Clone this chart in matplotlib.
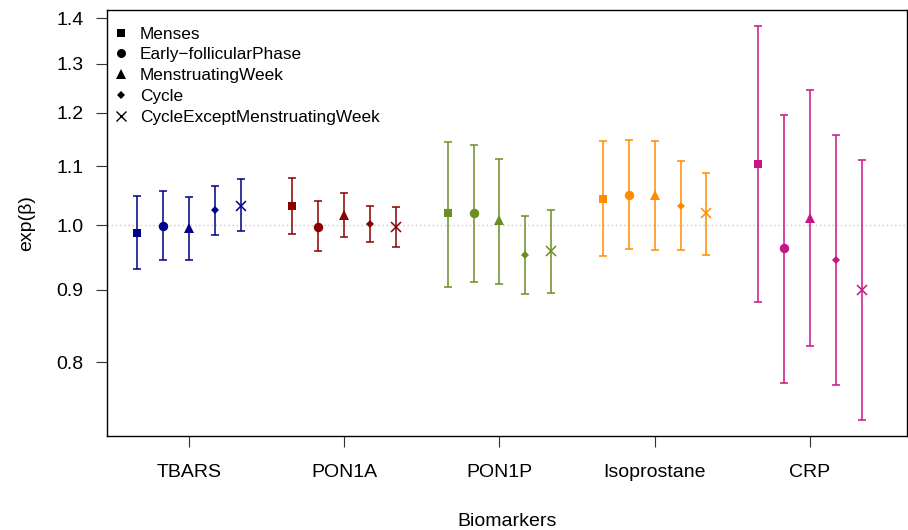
import matplotlib
matplotlib.use("Agg")
import matplotlib.pyplot as plt
from matplotlib.lines import Line2D
import matplotlib.ticker as mticker

plt.rcParams['font.family'] = ['Liberation Sans', 'DejaVu Sans']

biomarkers = ["TBARS", "PON1A", "PON1P", "Isoprostane", "CRP"]
periods = ["Menses", "Early\u2212follicularPhase", "MenstruatingWeek", "Cycle",
           "CycleExceptMenstruatingWeek"]
colors = ["#00008B", "#8B0000", "#6B8E23", "#FF8C00", "#C71585"]

# estimates (exp(beta)) per biomarker, ordered by period
est_TBARS = [0.987, 0.999, 0.995, 1.024, 1.032]
est_PON1A = [1.031, 0.997, 1.017, 1.001, 0.996]
est_PON1P = [1.019, 1.020, 1.008, 0.952, 0.958]
est_Iso = [1.043, 1.050, 1.050, 1.031, 1.019]
est_CRP = [1.104, 0.963, 1.012, 0.945, 0.900]

low_TBARS = [0.931, 0.945, 0.944, 0.984, 0.991]
low_PON1A = [0.986, 0.958, 0.980, 0.973, 0.965]
low_PON1P = [0.904, 0.912, 0.909, 0.894, 0.895]
low_Iso = [0.951, 0.962, 0.960, 0.960, 0.953]
low_CRP = [0.883, 0.774, 0.822, 0.771, 0.728]

up_TBARS = [1.048, 1.057, 1.047, 1.065, 1.078]
up_PON1A = [1.079, 1.040, 1.053, 1.031, 1.029]
up_PON1P = [1.145, 1.139, 1.113, 1.014, 1.025]
up_Iso = [1.146, 1.149, 1.147, 1.109, 1.088]
up_CRP = [1.381, 1.196, 1.246, 1.158, 1.111]

estimates = [est_TBARS, est_PON1A, est_PON1P, est_Iso, est_CRP]
lows = [low_TBARS, low_PON1A, low_PON1P, low_Iso, low_CRP]
ups = [up_TBARS, up_PON1A, up_PON1P, up_Iso, up_CRP]

markers = ['s', 'o', '^', 'D', 'x']
msizes = [6.2, 6.8, 7.5, 4.3, 7]

fig = plt.figure(figsize=(9.08, 5.30), dpi=100)
ax = fig.add_axes([107/908, 1-436/530, 800/908, 426/530])
ax.set_yscale('log')

ax.axhline(1.0, color='#c8c8c8', lw=1, ls=(0, (1, 2)), zorder=0)

for i, b in enumerate(biomarkers):
    for j in range(5):
        x = (i + 1) + (j - 2) / 6.0
        e = estimates[i][j]
        lo = lows[i][j]
        hi = ups[i][j]
        ax.errorbar([x], [e], yerr=[[e - lo], [hi - e]], fmt='none',
                    ecolor=colors[i], elinewidth=1.3, capsize=3.2,
                    capthick=1.3, alpha=0.85, zorder=2)
        if markers[j] == 'x':
            ax.plot([x], [e], marker='x', color=colors[i], ms=msizes[j],
                    mew=1.1, ls='none', zorder=3)
        else:
            ax.plot([x], [e], marker=markers[j], color=colors[i],
                    ms=msizes[j], mew=0, ls='none', zorder=3)

ax.set_xlim(0.472, 5.625)
ax.set_ylim(0.7096, 1.4185)
yt = [0.8, 0.9, 1.0, 1.1, 1.2, 1.3, 1.4]
ax.yaxis.set_major_locator(mticker.FixedLocator(yt))
ax.yaxis.set_minor_locator(mticker.NullLocator())
ax.set_yticklabels([f"{v:.1f}" for v in yt])
ax.set_xticks(range(1, 6))
ax.set_xticklabels(biomarkers)

ax.tick_params(axis='both', labelsize=14, length=8, width=0.8, color='#333333')
ax.tick_params(axis='x', pad=12.5)
ax.tick_params(axis='y', pad=9)
for s in ax.spines.values():
    s.set_linewidth(1.0)

ax.set_xlabel("Biomarkers", fontsize=14, labelpad=23)
ax.set_ylabel("exp(\u03b2)", fontsize=14, labelpad=15)

handles = []
for j in range(5):
    if markers[j] == 'x':
        handles.append(Line2D([], [], marker='x', color='black', ls='none',
                              ms=6.5, mew=1.0))
    else:
        handles.append(Line2D([], [], marker=markers[j], color='black', ls='none',
                              ms=msizes[j] * 0.95, mew=0))
ax.legend(handles, periods, loc='upper left', frameon=False, fontsize=12.4,
          handletextpad=0.55, labelspacing=0.33, borderaxespad=0.0,
          borderpad=0.25, handlelength=1.1, bbox_to_anchor=(0.0, 0.971))

fig.savefig("out.png", dpi=100)
